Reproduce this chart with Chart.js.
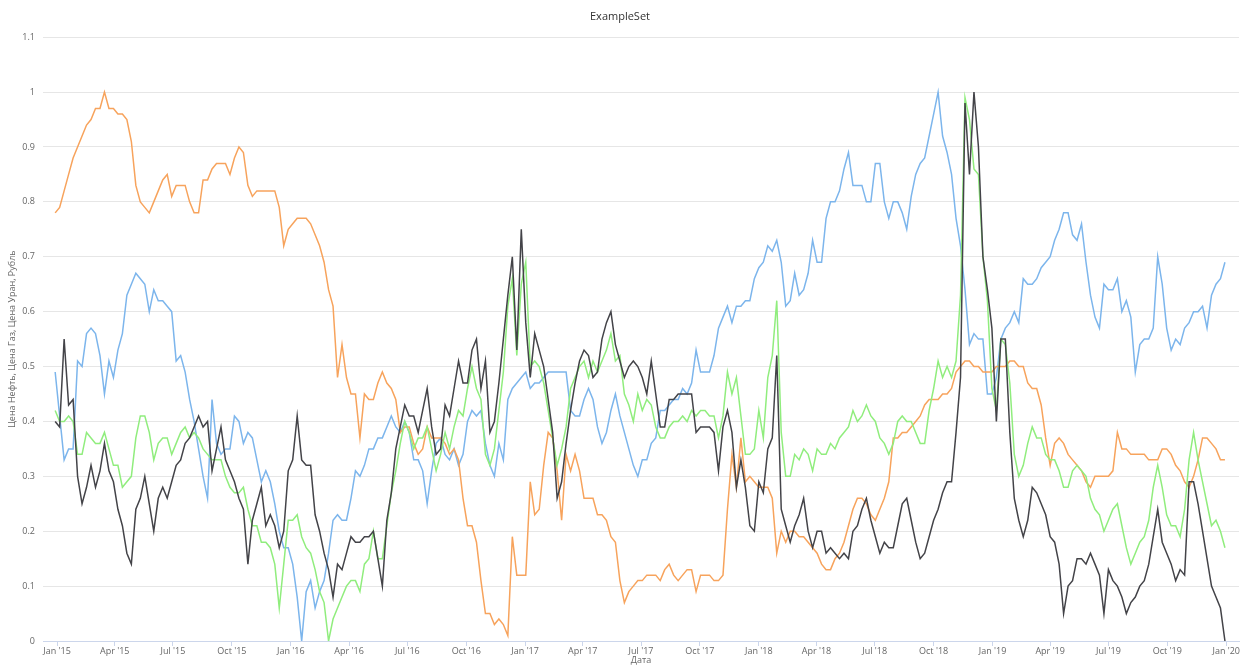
<!DOCTYPE html>
<html>
<head>
<meta charset="utf-8">
<title>ExampleSet</title>
<script src="https://cdn.jsdelivr.net/npm/chart.js@4.4.1/dist/chart.umd.min.js"></script>
<style>
    html, body { margin: 0; padding: 0; background: #fff; }
    #wrap { width: 1240px; height: 666px; }
</style>
</head>
<body>
<div id="wrap"><canvas id="chart" width="1240" height="666"></canvas></div>
<script>
// Dates: one reading a week, 29 Dec 2014 .. 30 Dec 2019
const DAY = 86400000;
const startDate = Date.UTC(2014, 11, 29);
const dates = [];
for (let i = 0; i < 262; i++) dates.push(startDate + i * 7 * DAY);

// Axis ticks
const tickYears = [2015, 2016, 2017, 2018, 2019, 2020];
const tickMonths = [0, 3, 6, 9];
const monthNames = ['Jan', 'Feb', 'Mar', 'Apr', 'May', 'Jun', 'Jul', 'Aug', 'Sep', 'Oct', 'Nov', 'Dec'];

// Series values (normalised 0..1), one per week
const oilValues = [
    0.49,0.41,0.33,0.35,0.35,0.51,0.50,0.56,0.57,0.56,
    0.52,0.45,0.51,0.48,0.53,0.56,0.63,0.65,0.67,0.66,
    0.65,0.60,0.64,0.62,0.62,0.61,0.60,0.51,0.52,0.49,
    0.44,0.40,0.35,0.30,0.26,0.44,0.36,0.34,0.35,0.35,
    0.41,0.40,0.36,0.38,0.37,0.33,0.29,0.31,0.29,0.25,
    0.20,0.17,0.17,0.14,0.08,0.00,0.09,0.11,0.06,0.09,
    0.11,0.16,0.22,0.23,0.22,0.22,0.26,0.31,0.30,0.32,
    0.35,0.35,0.37,0.37,0.39,0.41,0.39,0.38,0.40,0.38,
    0.33,0.33,0.31,0.25,0.31,0.36,0.37,0.34,0.33,0.35,
    0.32,0.34,0.40,0.42,0.41,0.42,0.36,0.32,0.30,0.36,
    0.33,0.44,0.46,0.47,0.48,0.49,0.46,0.47,0.47,0.48,
    0.49,0.49,0.49,0.49,0.49,0.42,0.41,0.41,0.44,0.46,
    0.44,0.39,0.36,0.38,0.42,0.45,0.41,0.38,0.35,0.32,
    0.30,0.33,0.33,0.36,0.37,0.42,0.42,0.43,0.44,0.44,
    0.46,0.45,0.47,0.53,0.49,0.49,0.49,0.52,0.57,0.59,
    0.61,0.58,0.61,0.61,0.62,0.62,0.66,0.68,0.69,0.72,
    0.71,0.73,0.69,0.61,0.62,0.67,0.63,0.64,0.67,0.73,
    0.69,0.69,0.77,0.80,0.80,0.82,0.86,0.89,0.83,0.83,
    0.83,0.80,0.80,0.87,0.87,0.80,0.77,0.80,0.80,0.78,
    0.75,0.81,0.85,0.87,0.88,0.92,0.96,1.00,0.92,0.89,
    0.85,0.77,0.72,0.64,0.54,0.56,0.55,0.55,0.45,0.45,
    0.48,0.55,0.57,0.58,0.60,0.58,0.66,0.65,0.65,0.66,
    0.68,0.69,0.70,0.73,0.75,0.78,0.78,0.74,0.73,0.76,
    0.69,0.63,0.59,0.57,0.65,0.64,0.64,0.66,0.60,0.62,
    0.59,0.49,0.54,0.55,0.55,0.57,0.70,0.65,0.57,0.53,
    0.55,0.54,0.57,0.58,0.60,0.60,0.61,0.57,0.63,0.65,
    0.66,0.69
];
const gasValues = [
    0.40,0.39,0.55,0.43,0.44,0.30,0.25,0.28,0.32,0.28,
    0.31,0.36,0.31,0.29,0.24,0.21,0.16,0.14,0.24,0.26,
    0.30,0.25,0.20,0.26,0.28,0.26,0.29,0.32,0.33,0.36,
    0.37,0.39,0.41,0.39,0.40,0.31,0.35,0.39,0.33,0.31,
    0.29,0.26,0.24,0.14,0.22,0.25,0.28,0.21,0.23,0.21,
    0.17,0.20,0.31,0.33,0.41,0.33,0.32,0.32,0.23,0.20,
    0.16,0.13,0.08,0.14,0.13,0.16,0.19,0.18,0.18,0.19,
    0.19,0.20,0.15,0.10,0.22,0.27,0.35,0.39,0.43,0.41,
    0.41,0.38,0.42,0.46,0.39,0.34,0.35,0.43,0.41,0.46,
    0.51,0.47,0.47,0.53,0.55,0.46,0.51,0.38,0.40,0.47,
    0.55,0.63,0.70,0.53,0.75,0.58,0.48,0.56,0.53,0.50,
    0.44,0.38,0.26,0.29,0.36,0.42,0.47,0.51,0.53,0.52,
    0.48,0.49,0.55,0.58,0.60,0.54,0.51,0.48,0.50,0.51,
    0.50,0.48,0.45,0.51,0.45,0.39,0.39,0.44,0.44,0.45,
    0.45,0.45,0.45,0.38,0.39,0.39,0.39,0.38,0.31,0.39,
    0.42,0.38,0.28,0.33,0.28,0.21,0.20,0.29,0.27,0.35,
    0.37,0.52,0.24,0.21,0.18,0.21,0.23,0.26,0.20,0.17,
    0.20,0.20,0.16,0.17,0.16,0.15,0.16,0.15,0.20,0.21,
    0.24,0.26,0.22,0.19,0.16,0.18,0.17,0.17,0.21,0.25,
    0.26,0.22,0.18,0.15,0.16,0.19,0.22,0.24,0.27,0.29,
    0.29,0.38,0.48,0.98,0.85,1.00,0.90,0.70,0.64,0.57,
    0.40,0.55,0.55,0.38,0.26,0.22,0.19,0.22,0.28,0.27,
    0.25,0.23,0.19,0.18,0.14,0.05,0.10,0.11,0.15,0.15,
    0.14,0.16,0.14,0.12,0.05,0.13,0.11,0.10,0.08,0.05,
    0.07,0.08,0.10,0.11,0.14,0.19,0.24,0.18,0.16,0.14,
    0.11,0.13,0.12,0.29,0.29,0.25,0.20,0.15,0.10,0.08,
    0.06,0.00
];
const uraniumValues = [
    0.42,0.40,0.40,0.41,0.40,0.34,0.34,0.38,0.37,0.36,
    0.36,0.38,0.35,0.32,0.32,0.28,0.29,0.30,0.37,0.41,
    0.41,0.38,0.33,0.36,0.37,0.37,0.34,0.36,0.38,0.39,
    0.37,0.38,0.37,0.35,0.34,0.33,0.33,0.33,0.30,0.28,
    0.27,0.27,0.28,0.24,0.21,0.21,0.18,0.18,0.17,0.14,
    0.06,0.14,0.22,0.22,0.23,0.19,0.17,0.16,0.13,0.09,
    0.07,0.00,0.04,0.06,0.08,0.10,0.11,0.11,0.09,0.14,
    0.15,0.20,0.15,0.15,0.21,0.27,0.31,0.36,0.40,0.38,
    0.35,0.37,0.37,0.39,0.35,0.31,0.34,0.38,0.35,0.39,
    0.42,0.41,0.46,0.50,0.46,0.44,0.34,0.32,0.35,0.42,
    0.49,0.61,0.66,0.52,0.65,0.69,0.50,0.51,0.50,0.47,
    0.42,0.37,0.32,0.35,0.39,0.46,0.48,0.50,0.51,0.48,
    0.51,0.49,0.51,0.53,0.56,0.51,0.52,0.45,0.43,0.40,
    0.45,0.42,0.44,0.43,0.39,0.37,0.37,0.39,0.40,0.40,
    0.41,0.40,0.42,0.41,0.42,0.42,0.41,0.41,0.37,0.41,
    0.49,0.45,0.48,0.41,0.34,0.34,0.35,0.42,0.37,0.48,
    0.52,0.62,0.38,0.30,0.30,0.34,0.33,0.35,0.34,0.31,
    0.35,0.34,0.34,0.36,0.35,0.37,0.38,0.39,0.42,0.40,
    0.41,0.43,0.41,0.40,0.37,0.36,0.34,0.36,0.40,0.41,
    0.40,0.40,0.38,0.36,0.36,0.42,0.46,0.51,0.48,0.50,
    0.48,0.51,0.63,0.99,0.95,0.86,0.85,0.70,0.62,0.46,
    0.42,0.55,0.54,0.47,0.34,0.30,0.32,0.36,0.39,0.37,
    0.37,0.34,0.33,0.33,0.31,0.28,0.28,0.31,0.32,0.31,
    0.30,0.26,0.24,0.23,0.20,0.22,0.24,0.25,0.21,0.17,
    0.14,0.16,0.18,0.19,0.22,0.28,0.32,0.28,0.23,0.21,
    0.21,0.19,0.24,0.33,0.38,0.33,0.29,0.25,0.21,0.22,
    0.20,0.17
];
const rubleValues = [
    0.78,0.79,0.82,0.85,0.88,0.90,0.92,0.94,0.95,0.97,
    0.97,1.00,0.97,0.97,0.96,0.96,0.95,0.91,0.83,0.80,
    0.79,0.78,0.80,0.82,0.84,0.85,0.81,0.83,0.83,0.83,
    0.80,0.78,0.78,0.84,0.84,0.86,0.87,0.87,0.87,0.85,
    0.88,0.90,0.89,0.83,0.81,0.82,0.82,0.82,0.82,0.82,
    0.79,0.72,0.75,0.76,0.77,0.77,0.77,0.76,0.74,0.72,
    0.69,0.64,0.61,0.48,0.54,0.48,0.45,0.45,0.37,0.45,
    0.44,0.44,0.47,0.49,0.47,0.46,0.44,0.38,0.39,0.39,
    0.36,0.34,0.35,0.39,0.37,0.37,0.37,0.36,0.34,0.35,
    0.33,0.26,0.21,0.21,0.18,0.11,0.05,0.05,0.03,0.04,
    0.03,0.01,0.19,0.12,0.12,0.12,0.29,0.23,0.24,0.32,
    0.38,0.37,0.31,0.22,0.34,0.31,0.34,0.31,0.26,0.26,
    0.26,0.23,0.23,0.22,0.19,0.18,0.11,0.07,0.09,0.10,
    0.11,0.11,0.12,0.12,0.12,0.11,0.13,0.14,0.12,0.11,
    0.12,0.13,0.13,0.09,0.12,0.12,0.12,0.11,0.11,0.12,
    0.24,0.34,0.28,0.37,0.29,0.30,0.29,0.28,0.28,0.28,
    0.26,0.16,0.20,0.18,0.20,0.20,0.19,0.19,0.18,0.17,
    0.16,0.14,0.13,0.13,0.15,0.16,0.18,0.21,0.24,0.26,
    0.26,0.25,0.23,0.22,0.24,0.26,0.29,0.37,0.37,0.38,
    0.38,0.39,0.40,0.41,0.43,0.44,0.44,0.44,0.45,0.45,
    0.46,0.49,0.50,0.51,0.51,0.50,0.50,0.49,0.49,0.49,
    0.50,0.50,0.50,0.51,0.51,0.50,0.50,0.47,0.46,0.46,
    0.43,0.37,0.32,0.36,0.37,0.36,0.34,0.33,0.32,0.31,
    0.29,0.28,0.30,0.30,0.30,0.30,0.31,0.38,0.35,0.35,
    0.34,0.34,0.34,0.34,0.33,0.33,0.33,0.35,0.35,0.34,
    0.32,0.31,0.29,0.28,0.30,0.33,0.37,0.37,0.36,0.35,
    0.33,0.33
];

const toPoints = (values) => values.map((v, i) => ({ x: dates[i], y: v }));

const quarterTicks = [];
tickYears.forEach(y => tickMonths.forEach(m => {
    if (y < 2020 || m === 0) quarterTicks.push(Date.UTC(y, m, 1));
}));

const lineStyle = { borderWidth: 1.5, pointRadius: 0, tension: 0, fill: false };
const font = "'Open Sans', 'DejaVu Sans', sans-serif";

new Chart(document.getElementById('chart'), {
    type: 'line',
    data: {
        datasets: [
            { label: 'Цена Газ', data: toPoints(gasValues), borderColor: '#434348', ...lineStyle },
            { label: 'Цена Уран', data: toPoints(uraniumValues), borderColor: '#90ed7d', ...lineStyle },
            { label: 'Рубль', data: toPoints(rubleValues), borderColor: '#f7a35c', ...lineStyle },
            { label: 'Цена Нефть', data: toPoints(oilValues), borderColor: '#7cb5ec', ...lineStyle }
        ]
    },
    options: {
        responsive: false,
        animation: false,
        layout: { padding: 0 },
        plugins: {
            legend: { display: false },
            tooltip: { enabled: false },
            title: {
                display: true,
                text: 'ExampleSet',
                color: '#333333',
                font: { family: font, size: 11, weight: 'normal' },
                padding: { top: 10, bottom: 14 }
            }
        },
        scales: {
            x: {
                type: 'linear',
                min: Date.UTC(2014, 11, 10),
                max: Date.UTC(2020, 0, 21),
                afterBuildTicks: (scale) => { scale.ticks = quarterTicks.map(v => ({ value: v })); },
                afterFit: (scale) => { scale.height = 25; },
                grid: { drawOnChartArea: false, drawTicks: true, tickLength: 5, color: '#ccd6eb' },
                border: { color: '#ccd6eb' },
                ticks: {
                    autoSkip: false,
                    maxRotation: 0,
                    padding: 0,
                    color: '#666666',
                    font: { family: font, size: 9 },
                    callback: (value) => {
                        const d = new Date(value);
                        return monthNames[d.getUTCMonth()] + " '" + String(d.getUTCFullYear()).slice(2);
                    }
                },
                title: {
                    display: true,
                    text: 'Дата',
                    color: '#666666',
                    font: { family: font, size: 9 },
                    padding: { top: 0, bottom: 0 }
                }
            },
            y: {
                min: 0,
                max: 1.1,
                afterFit: (scale) => { scale.width = 43; },
                grid: { color: '#e6e6e6', drawTicks: false },
                border: { display: false },
                ticks: {
                    stepSize: 0.1,
                    padding: 8,
                    color: '#666666',
                    font: { family: font, size: 9 },
                    callback: (value) => String(+value.toFixed(1))
                },
                title: {
                    display: true,
                    text: 'Цена Нефть, Цена Газ, Цена Уран, Рубль',
                    color: '#666666',
                    font: { family: font, size: 9 },
                    padding: { top: 7, bottom: 0 }
                }
            }
        }
    }
});
</script>
</body>
</html>
